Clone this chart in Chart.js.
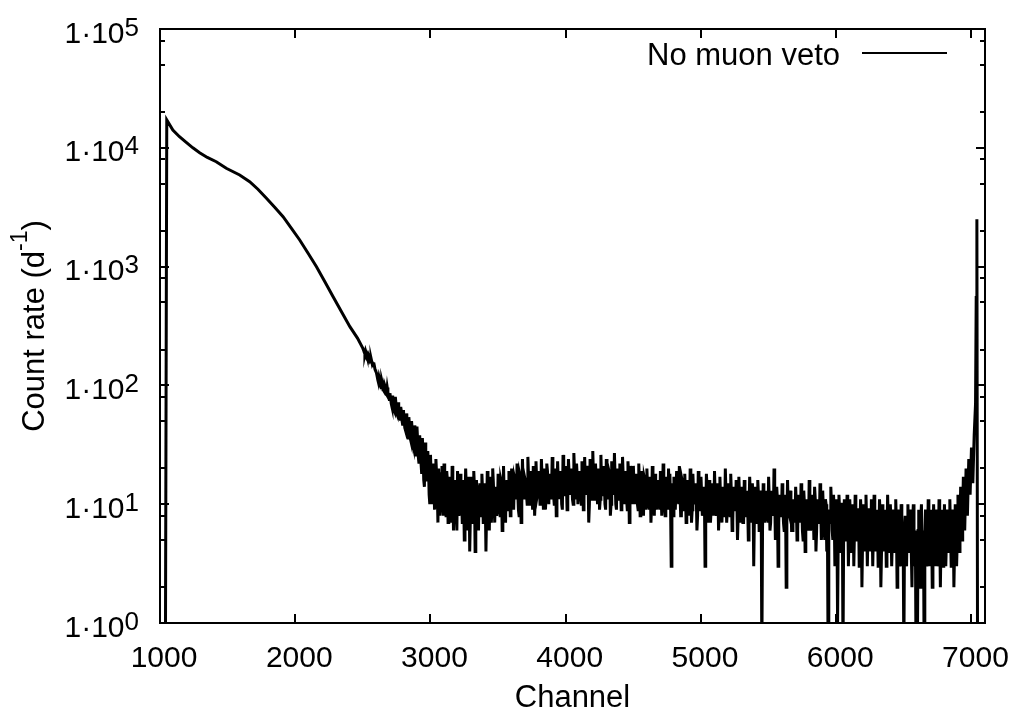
<!DOCTYPE html>
<html>
<head>
<meta charset="utf-8">
<title>Count rate spectrum</title>
<script src="https://cdn.jsdelivr.net/npm/chart.js@4.4.1/dist/chart.umd.min.js"></script>
<style>
  html, body { margin: 0; padding: 0; background: #fff; }
  canvas { display: block; }
</style>
</head>
<body>
<canvas id="spectrumChart" width="1013" height="715"></canvas>
<script>
// Smooth low-channel part of the spectrum
const smoothChannels = [1040, 1050, 1095, 1144, 1194, 1243, 1293, 1350, 1416, 1490, 1589, 1663, 1724, 1787, 1848, 1910, 1972, 2033, 2095, 2157, 2219, 2280, 2342, 2404, 2460];
const smoothRates = [0.5, 17150, 14100, 12400, 11100, 10000, 9100, 8300, 7640, 6720, 5900, 5190, 4480, 3760, 3155, 2630, 2100, 1675, 1295, 998, 746, 558, 417, 312, 250];

// Noisy part: values at channels 2500, 2510, 2520 ...
const noiseStartChannel = 2500;
const noiseStepChannels = 10;
const noiseRates = [
    205, 190, 196, 178, 182, 162, 170, 150, 156, 136,
    128, 112, 118, 100, 110, 92, 102, 86, 96, 80,
    86, 70, 82, 62, 80, 58, 72, 54, 66, 50,
    62, 44, 58, 40, 54, 36, 50, 32, 46, 30,
    45, 25, 38, 22, 36, 16, 33, 19, 28, 12,
    26, 14, 22, 9, 24, 13, 20, 8, 18, 11,
    22, 10, 19, 7, 17, 12, 21, 6, 16, 9,
    19, 8, 18, 11, 16, 5, 20, 9, 15, 4,
    17, 10, 19, 4, 16, 8, 14, 11, 18, 7,
    15, 4, 19, 9, 17, 7, 20, 10, 14, 8,
    18, 11, 16, 6, 21, 9, 15, 12, 19, 8,
    20, 10, 17, 13, 22, 9, 18, 7, 24, 11,
    16, 12, 25, 10, 19, 13, 21, 8, 23, 12,
    19, 10, 24, 14, 20, 9, 22, 13, 18, 11,
    25, 12, 20, 8, 23, 14, 19, 10, 26, 13,
    21, 9, 24, 15, 20, 11, 27, 13, 22, 10,
    19, 14, 23, 9, 25, 12, 21, 7, 24, 13,
    28, 11, 22, 14, 20, 9, 26, 12, 21, 10,
    24, 13, 19, 8, 23, 15, 27, 10, 20, 12,
    22, 9, 25, 14, 19, 11, 23, 7, 21, 13,
    21, 12, 18, 10, 22, 8, 19, 13, 17, 9,
    20, 11, 17, 7, 21, 12, 18, 9, 16, 10,
    19, 8, 22, 11, 17, 13, 20, 18, 3, 14,
    17, 9, 19, 12, 21, 8, 16, 11, 18, 7,
    16, 10, 20, 7, 18, 11, 15, 6, 19, 9,
    17, 8, 14, 3, 18, 10, 16, 7, 15, 11,
    19, 9, 15, 6, 17, 10, 14, 8, 20, 7,
    15, 11, 18, 6, 14, 9, 16, 5, 17, 10,
    14, 7, 16, 10, 13, 5, 17, 8, 15, 3,
    14, 8, 16, 6, 13, 0.5, 15, 7, 13, 9,
    17, 6, 13, 9, 20, 5, 14, 3, 12, 8,
    15, 7, 12, 2, 16, 9, 13, 6, 11, 8,
    14, 5, 12, 8, 15, 6, 13, 4, 11, 7,
    16, 6, 12, 9, 14, 4, 11, 7, 15, 5,
    13, 7, 11, 4, 0.5, 9, 14, 6, 12, 3,
    11, 1, 12, 4, 10, 0.5, 11, 5, 12, 3,
    11, 4, 10, 3, 12, 5, 9, 3, 11, 2,
    10, 4, 12, 3, 9, 5, 11, 3, 12, 4,
    9, 3, 11, 2, 10, 4, 9, 3, 12, 4,
    10, 3, 9, 4, 11, 2, 9, 3, 10, 3,
    0.5, 8, 3, 10, 4, 9, 2, 10, 3, 0.5,
    0.5, 9, 2, 10, 3, 0.5, 9, 3, 11, 3,
    9, 2, 10, 3, 9, 3, 11, 2, 9, 3,
    10, 3, 9, 4, 11, 3, 9, 2, 10, 3,
    12, 4, 14, 5, 17, 6
];

// Values in between: channels 2505, 2515, 2525 ...
const noiseMidRates = [
    198, 184, 188, 172, 176, 166, 160, 154, 146, 132,
    120, 106, 112, 96, 104, 90, 98, 84, 88, 76,
    78, 66, 74, 60, 70, 56, 64, 52, 60, 46,
    52, 42, 50, 36, 46, 34, 42, 30, 38, 26,
    34, 22, 30, 18, 27, 14, 25, 16, 21, 10,
    17, 10, 15, 12, 18, 7, 14, 10, 21, 8,
    14, 8, 16, 9, 13, 7, 15, 11, 12, 6,
    13, 9, 15, 7, 12, 10, 14, 6, 17, 8,
    12, 7, 14, 9, 11, 6, 15, 8, 13, 10,
    11, 9, 14, 6, 12, 10, 15, 7, 13, 9,
    13, 8, 15, 10, 12, 7, 16, 9, 14, 11,
    14, 9, 16, 11, 13, 8, 17, 10, 15, 12,
    15, 10, 17, 12, 14, 9, 18, 11, 16, 13,
    14, 11, 17, 9, 15, 12, 19, 10, 16, 13,
    16, 10, 18, 12, 15, 11, 17, 9, 19, 12,
    15, 11, 18, 12, 16, 10, 19, 11, 17, 12,
    16, 10, 18, 11, 15, 12, 17, 10, 19, 11,
    17, 12, 16, 10, 18, 11, 15, 13, 17, 9,
    16, 11, 18, 10, 15, 12, 17, 9, 16, 11,
    15, 12, 17, 10, 16, 9, 18, 11, 15, 10,
    14, 10, 16, 9, 15, 11, 14, 8, 16, 10,
    14, 9, 15, 10, 13, 8, 16, 10, 14, 9,
    13, 10, 15, 8, 14, 9, 13, 10, 15, 8,
    13, 9, 14, 10, 12, 8, 15, 9, 13, 10,
    12, 8, 14, 9, 13, 10, 12, 8, 14, 9,
    12, 9, 13, 8, 14, 7, 12, 9, 13, 8,
    12, 8, 13, 9, 11, 7, 13, 8, 12, 9,
    11, 8, 12, 7, 13, 9, 11, 8, 12, 7,
    11, 7, 12, 8, 10, 9, 12, 7, 11, 8,
    10, 7, 12, 8, 11, 6, 12, 8, 10, 7,
    11, 7, 10, 8, 12, 6, 11, 7, 10, 8,
    10, 6, 11, 7, 9, 8, 11, 6, 10, 7,
    10, 6, 9, 7, 11, 5, 10, 7, 9, 6,
    9, 7, 10, 5, 11, 6, 9, 7, 10, 6,
    9, 5, 10, 6, 8, 7, 10, 5, 9, 6,
    8, 6, 9, 5, 10, 6, 8, 5, 9, 6,
    8, 5, 9, 6, 7, 5, 9, 6, 8, 5,
    8, 5, 7, 6, 9, 4, 8, 6, 7, 5,
    7, 5, 8, 4, 7, 6, 8, 5, 7, 4,
    7, 5, 8, 4, 7, 5, 6, 4, 8, 5,
    6, 4, 7, 5, 6, 4, 7, 5, 6, 4,
    6, 5, 7, 4, 6, 5, 7, 4, 6, 5,
    7, 4, 6, 5, 7, 4, 6, 5, 7, 4,
    6, 5, 7, 4, 6, 5, 7, 4, 6, 5,
    8, 6, 10, 9, 12
];

// Rise and peak at the top end
const peakChannels = [6960, 6970, 6980, 6990, 7000, 7010, 7020, 7030, 7035, 7040, 7045, 7100];
const peakRates = [20, 8, 24, 12, 30, 15, 38, 70, 550, 2500, 0.5, 0.5];

const xTicks = [1000, 2000, 3000, 4000, 5000, 6000, 7000];
const yExponents = [0, 1, 2, 3, 4, 5];
const yMinorFactors = [2, 5, 8];
const legendLabel = 'No muon veto';
const xTitle = 'Channel';
const yTitle = 'Count rate (d';
const yTitleSup = '-1';
const yTitleEnd = ')';

const FONT = "'Liberation Sans', Arial, sans-serif";

// Build the point list (channel order)
const points = [];
smoothChannels.forEach((c, i) => points.push({ x: c, y: smoothRates[i] }));
noiseRates.forEach((r, i) => {
    const c = noiseStartChannel + i * noiseStepChannels;
    points.push({ x: c, y: r });
    if (i < noiseMidRates.length) {
        points.push({ x: c + noiseStepChannels / 2, y: noiseMidRates[i] });
    }
});
peakChannels.forEach((c, i) => points.push({ x: c, y: peakRates[i] }));

// gnuplot-like frame, inward ticks, labels and key
const gnuplotFrame = {
    id: 'gnuplotFrame',
    afterDraw(chart) {
        const ctx = chart.ctx;
        const area = chart.chartArea;
        const xs = chart.scales.x;
        const ys = chart.scales.y;
        ctx.save();
        ctx.strokeStyle = '#000';
        ctx.fillStyle = '#000';
        ctx.lineWidth = 2;

        ctx.strokeRect(area.left, area.top, area.right - area.left, area.bottom - area.top);

        // x ticks (bottom and top)
        ctx.beginPath();
        xTicks.forEach(v => {
            const px = Math.round(xs.getPixelForValue(v));
            ctx.moveTo(px, area.bottom); ctx.lineTo(px, area.bottom - 9);
            ctx.moveTo(px, area.top); ctx.lineTo(px, area.top + 9);
        });
        // y major and minor ticks (left and right)
        yExponents.forEach(e => {
            const py = Math.round(ys.getPixelForValue(Math.pow(10, e)));
            ctx.moveTo(area.left, py); ctx.lineTo(area.left + 9, py);
            ctx.moveTo(area.right, py); ctx.lineTo(area.right - 9, py);
            if (e < yExponents[yExponents.length - 1]) {
                yMinorFactors.forEach(f => {
                    const pm = Math.round(ys.getPixelForValue(f * Math.pow(10, e)));
                    ctx.moveTo(area.left, pm); ctx.lineTo(area.left + 5, pm);
                    ctx.moveTo(area.right, pm); ctx.lineTo(area.right - 5, pm);
                });
            }
        });
        ctx.stroke();

        // x tick labels
        ctx.font = '30px ' + FONT;
        ctx.textAlign = 'center';
        ctx.textBaseline = 'alphabetic';
        xTicks.forEach(v => {
            ctx.fillText(String(v), xs.getPixelForValue(v) + 4, 667);
        });

        // y tick labels 1·10^n
        ctx.textAlign = 'left';
        yExponents.forEach(e => {
            const py = ys.getPixelForValue(Math.pow(10, e));
            ctx.font = '30px ' + FONT;
            const main = '1\u00b710';
            const mainW = ctx.measureText(main).width;
            ctx.font = '26px ' + FONT;
            const supW = ctx.measureText(String(e)).width;
            const right = 139;
            ctx.font = '30px ' + FONT;
            ctx.fillText(main, right - supW - mainW, py + 13.5);
            ctx.font = '26px ' + FONT;
            ctx.fillText(String(e), right - supW, py + 6.5);
        });

        // x axis title
        ctx.font = '31px ' + FONT;
        ctx.textAlign = 'center';
        ctx.fillText(xTitle, (area.left + area.right) / 2, 707);

        // y axis title (rotated) with superscript
        ctx.save();
        ctx.translate(44, (area.top + area.bottom) / 2);
        ctx.rotate(-Math.PI / 2);
        ctx.textAlign = 'left';
        ctx.font = '31px ' + FONT;
        const w1 = ctx.measureText(yTitle).width;
        const w3 = ctx.measureText(yTitleEnd).width;
        ctx.font = '23px ' + FONT;
        const w2 = ctx.measureText(yTitleSup).width;
        let x0 = -(w1 + w2 + w3) / 2;
        ctx.font = '31px ' + FONT;
        ctx.fillText(yTitle, x0, 0);
        ctx.font = '23px ' + FONT;
        ctx.fillText(yTitleSup, x0 + w1, -17);
        ctx.font = '31px ' + FONT;
        ctx.fillText(yTitleEnd, x0 + w1 + w2, 0);
        ctx.restore();

        // key: text then line sample
        ctx.font = '31px ' + FONT;
        ctx.textAlign = 'right';
        ctx.fillText(legendLabel, 840, 65);
        ctx.beginPath();
        ctx.moveTo(862, 53);
        ctx.lineTo(947, 53);
        ctx.stroke();

        ctx.restore();
    }
};

const ctx = document.getElementById('spectrumChart').getContext('2d');
const chart = new Chart(ctx, {
    type: 'line',
    data: {
        datasets: [{
            label: legendLabel,
            data: points,
            borderColor: '#000',
            backgroundColor: '#000',
            borderWidth: 3,
            pointRadius: 0,
            tension: 0,
            fill: false
        }]
    },
    options: {
        responsive: false,
        animation: false,
        devicePixelRatio: 1,
        layout: {
            padding: { left: 160, right: 28, top: 29, bottom: 92 }
        },
        plugins: {
            legend: { display: false },
            tooltip: { enabled: false }
        },
        scales: {
            x: { type: 'linear', min: 1000, max: 7100, display: false },
            y: { type: 'logarithmic', min: 1, max: 100000, display: false }
        }
    },
    plugins: [gnuplotFrame]
});
</script>
</body>
</html>
